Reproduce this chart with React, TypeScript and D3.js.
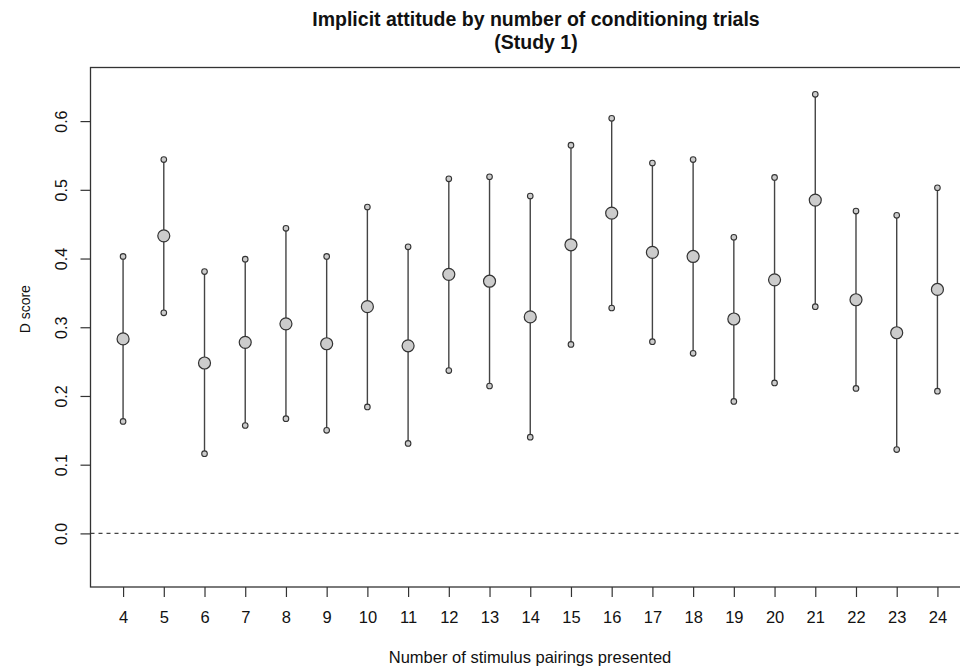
import React, { useEffect, useRef } from 'react';
import * as d3 from 'd3';

const trials = [4, 5, 6, 7, 8, 9, 10, 11, 12, 13, 14, 15, 16, 17, 18, 19, 20, 21, 22, 23, 24];
const means = [0.283, 0.433, 0.248, 0.278, 0.305, 0.276, 0.33, 0.273, 0.377, 0.367, 0.315, 0.42, 0.466, 0.409, 0.403, 0.312, 0.369, 0.485, 0.34, 0.292, 0.355];
const upper = [0.403, 0.544, 0.381, 0.399, 0.444, 0.403, 0.475, 0.417, 0.516, 0.519, 0.491, 0.565, 0.604, 0.539, 0.544, 0.431, 0.518, 0.639, 0.469, 0.463, 0.503];
const lower = [0.163, 0.321, 0.116, 0.157, 0.167, 0.15, 0.184, 0.131, 0.237, 0.2145, 0.14, 0.275, 0.328, 0.279, 0.262, 0.192, 0.219, 0.33, 0.211, 0.122, 0.207];
const yTicks = [0, 0.1, 0.2, 0.3, 0.4, 0.5, 0.6];

const W = 960;
const H = 668;
const margin = { top: 67.5, right: -10, bottom: 81, left: 90.5 };
const font = '"Liberation Sans", Arial, Helvetica, sans-serif';

const App = () => {
  const ref = useRef<SVGSVGElement>(null);

  useEffect(() => {
    if (!ref.current) return;
    const svg = d3.select(ref.current);
    svg.selectAll('*').remove();

    const x = d3.scaleLinear().domain([3.2, 24.8]).range([margin.left, W - margin.right]);
    const y = d3.scaleLinear().domain([-0.078, 0.678]).range([H - margin.bottom, margin.top]);

    const data = trials.map((t, i) => ({ t, m: means[i], hi: upper[i], lo: lower[i] }));

    // title (two lines, like R's main with \n)
    const title = svg.append('g').attr('font-family', font).attr('font-weight', 'bold')
      .attr('font-size', 19.5).attr('text-anchor', 'middle').attr('fill', '#111');
    title.append('text').attr('x', 536).attr('y', 26).text('Implicit attitude by number of conditioning trials');
    title.append('text').attr('x', 536).attr('y', 49).text('(Study 1)');

    // zero reference line
    svg.append('line')
      .attr('x1', x(3.2)).attr('x2', x(24.8))
      .attr('y1', y(0)).attr('y2', y(0))
      .attr('stroke', '#444').attr('stroke-width', 1.1).attr('stroke-dasharray', '4,4');

    // error bars
    const g = svg.append('g');
    g.selectAll('line.err').data(data).join('line')
      .attr('class', 'err')
      .attr('x1', (d) => x(d.t)).attr('x2', (d) => x(d.t))
      .attr('y1', (d) => y(d.lo)).attr('y2', (d) => y(d.hi))
      .attr('stroke', '#444').attr('stroke-width', 1.4);

    const ends = data.flatMap((d) => [{ t: d.t, v: d.lo }, { t: d.t, v: d.hi }]);
    g.selectAll('circle.end').data(ends).join('circle')
      .attr('class', 'end')
      .attr('cx', (d) => x(d.t)).attr('cy', (d) => y(d.v)).attr('r', 2.8)
      .attr('fill', '#cccccc').attr('stroke', '#333').attr('stroke-width', 1.1);

    g.selectAll('circle.mean').data(data).join('circle')
      .attr('class', 'mean')
      .attr('cx', (d) => x(d.t)).attr('cy', (d) => y(d.m)).attr('r', 6)
      .attr('fill', '#cccccc').attr('stroke', '#333').attr('stroke-width', 1.2);

    // box
    svg.append('rect')
      .attr('x', margin.left).attr('y', margin.top)
      .attr('width', W - margin.right - margin.left)
      .attr('height', H - margin.bottom - margin.top)
      .attr('fill', 'none').attr('stroke', '#333').attr('stroke-width', 1.3);

    // x axis
    const xAxis = svg.append('g').attr('transform', `translate(0,${H - margin.bottom})`)
      .call(d3.axisBottom(x).tickValues(trials).tickSize(10).tickFormat(d3.format('d')));
    xAxis.select('.domain').remove();
    xAxis.selectAll('line').attr('stroke', '#333').attr('stroke-width', 1.2);
    xAxis.selectAll('text')
      .attr('font-family', font).attr('font-size', 16.5).attr('fill', '#111')
      .attr('y', 24).attr('dy', '0.71em');

    // y axis, labels rotated as in R (las = 0)
    const yAxis = svg.append('g').attr('transform', `translate(${margin.left},0)`)
      .call(d3.axisLeft(y).tickValues(yTicks).tickSize(10).tickFormat(d3.format('.1f')));
    yAxis.select('.domain').remove();
    yAxis.selectAll('line').attr('stroke', '#333').attr('stroke-width', 1.2);
    yAxis.selectAll('text')
      .attr('font-family', font).attr('font-size', 16).attr('fill', '#111')
      .attr('text-anchor', 'middle').attr('x', 0).attr('dy', 0)
      .attr('transform', 'translate(-24,0) rotate(-90)');

    // axis titles
    svg.append('text').attr('x', 530).attr('y', 663)
      .attr('text-anchor', 'middle').attr('font-family', font).attr('font-size', 16.5).attr('fill', '#111')
      .text('Number of stimulus pairings presented');
    svg.append('text')
      .attr('transform', `translate(30,${y(0.3) - 18}) rotate(-90)`)
      .attr('text-anchor', 'middle').attr('font-family', font).attr('font-size', 14).attr('fill', '#111')
      .text('D score');
  }, []);

  return (
    <svg
      ref={ref}
      width={W}
      height={H}
      style={{ position: 'absolute', left: 0, top: 0, background: '#fff' }}
    />
  );
};

export default App;
